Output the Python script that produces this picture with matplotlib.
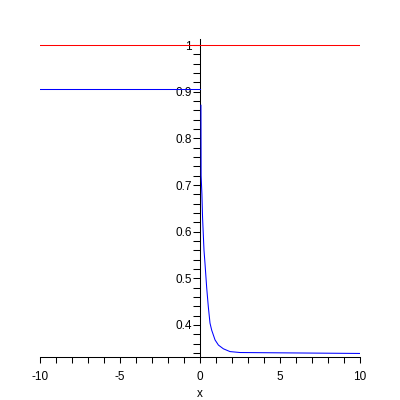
import matplotlib
matplotlib.use("Agg")
import matplotlib.pyplot as plt
from matplotlib.ticker import MultipleLocator

# ── Data ─────────────────────────────────────────────────────────────────────
upper_level = 1.0
lower_level = 0.906
curve_x = [0.06, 0.07, 0.12, 0.16, 0.25, 0.31, 0.42, 0.52,
           0.625, 0.73, 0.94, 1.15, 1.46, 1.875, 2.5, 10.0]
curve_y = [0.871, 0.72, 0.68, 0.63, 0.56, 0.533, 0.479, 0.439,
           0.404, 0.389, 0.368, 0.357, 0.349, 0.343, 0.341, 0.339]
x_ticks = [-10, -5, 0, 5, 10]
y_ticks = [0.4, 0.5, 0.6, 0.7, 0.8, 0.9, 1.0]
y_labels = ["0.4", "0.5", "0.6", "0.7", "0.8", "0.9", "1"]

plt.rcParams["font.family"] = ["Liberation Sans", "DejaVu Sans"]

fig = plt.figure(figsize=(4, 4), dpi=100)
ax = fig.add_axes([0.1, 0.1075, 0.8, 0.795])

lw = 0.75
ax.plot([-10, 10], [upper_level, upper_level], color="red", linewidth=lw, zorder=3)
ax.plot([-10, 0], [lower_level, lower_level], color="blue", linewidth=lw, zorder=3)
ax.plot(curve_x, curve_y, color="blue", linewidth=lw, zorder=3)

ax.set_xlim(-10, 10)
ax.set_ylim(0.3314, 1.013)

ax.spines["top"].set_visible(False)
ax.spines["right"].set_visible(False)
ax.spines["left"].set_position(("data", 0))
for s in ("left", "bottom"):
    ax.spines[s].set_linewidth(lw)

ax.set_xticks(x_ticks)
ax.set_xticklabels([str(t) for t in x_ticks])
ax.xaxis.set_minor_locator(MultipleLocator(1))
ax.set_yticks(y_ticks)
ax.set_yticklabels(y_labels)
ax.yaxis.set_minor_locator(MultipleLocator(0.02))

ax.tick_params(axis="both", which="both", direction="out", width=lw,
               labelsize=8.5, color="black")
ax.tick_params(axis="x", which="both", length=4, pad=6)
ax.tick_params(axis="y", which="both", length=5, pad=1)

ax.set_xlabel("x", fontsize=8.5, labelpad=4)

fig.savefig("out.png", dpi=100)
